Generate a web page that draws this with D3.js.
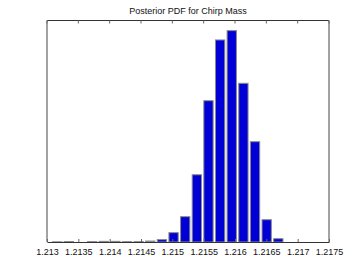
<!DOCTYPE html>
<html>
<head>
<meta charset="utf-8">
<script src="https://cdn.jsdelivr.net/npm/d3@7"></script>
<style>
  body { margin: 0; background: #fff; }
  svg { display: block; font-family: "Liberation Sans", Arial, sans-serif; }
</style>
</head>
<body>
<script>
// histogram of chirp mass samples, 20 bins
const binStart = 1.2131628;
const binStep = 0.0001857;
const counts = [1, 3, 0, 2, 4, 4, 2, 2, 6, 15, 59, 160, 425, 893, 1277, 1336, 1003, 634, 141, 21];
const xTicks = [1.213, 1.2135, 1.214, 1.2145, 1.215, 1.2155, 1.216, 1.2165, 1.217, 1.2175];
const yMax = 1400;
const title = 'Posterior PDF for Chirp Mass';

const width = 363, height = 273;
const margin = { top: 20.5, right: 34, bottom: 31, left: 47 };

const svg = d3.select('body').append('svg')
    .attr('width', width)
    .attr('height', height);

const x = d3.scaleLinear().domain([1.213, 1.2175]).range([margin.left, width - margin.right]);
const y = d3.scaleLinear().domain([0, yMax]).range([height - margin.bottom, margin.top]);

const barW = 0.8 * (x(binStart + binStep) - x(binStart));

svg.append('g').selectAll('rect')
    .data(counts)
    .join('rect')
    .attr('x', (d, i) => x(binStart + i * binStep) - barW / 2)
    .attr('y', d => y(d))
    .attr('width', barW)
    .attr('height', d => y(0) - y(d))
    .attr('fill', '#0000d6')
    .attr('stroke', '#8a8a8a')
    .attr('stroke-width', 1);

// box
const x0 = x.range()[0], x1 = x.range()[1];
const yb = y(0), yt = y(yMax);
svg.append('line').attr('x1', x0).attr('x2', x1).attr('y1', yt).attr('y2', yt)
    .attr('stroke', '#333').attr('stroke-width', 1);
svg.append('line').attr('x1', x0).attr('x2', x0).attr('y1', yt).attr('y2', yb)
    .attr('stroke', '#8c8c8c').attr('stroke-width', 1.6);
svg.append('line').attr('x1', x1).attr('x2', x1).attr('y1', yt).attr('y2', yb)
    .attr('stroke', '#8c8c8c').attr('stroke-width', 1.6);

// bottom axis with inward ticks
const xAxis = svg.append('g')
    .attr('transform', `translate(0,${yb})`)
    .call(d3.axisBottom(x).tickValues(xTicks).tickFormat(d3.format('')).tickSizeInner(-3).tickSizeOuter(0).tickPadding(7));
xAxis.select('.domain').attr('stroke', '#333');
xAxis.selectAll('.tick line').attr('stroke', '#666');
xAxis.selectAll('text').attr('font-size', 9).attr('fill', '#111')
    .attr('font-family', '"Liberation Sans", Arial, sans-serif');

// top ticks
svg.append('g').selectAll('line')
    .data(xTicks)
    .join('line')
    .attr('x1', d => x(d)).attr('x2', d => x(d))
    .attr('y1', yt).attr('y2', yt + 3)
    .attr('stroke', '#666');

svg.append('text')
    .attr('x', (x0 + x1) / 2)
    .attr('y', 14)
    .attr('text-anchor', 'middle')
    .attr('font-size', 9)
    .attr('fill', '#111')
    .text(title);
</script>
</body>
</html>
